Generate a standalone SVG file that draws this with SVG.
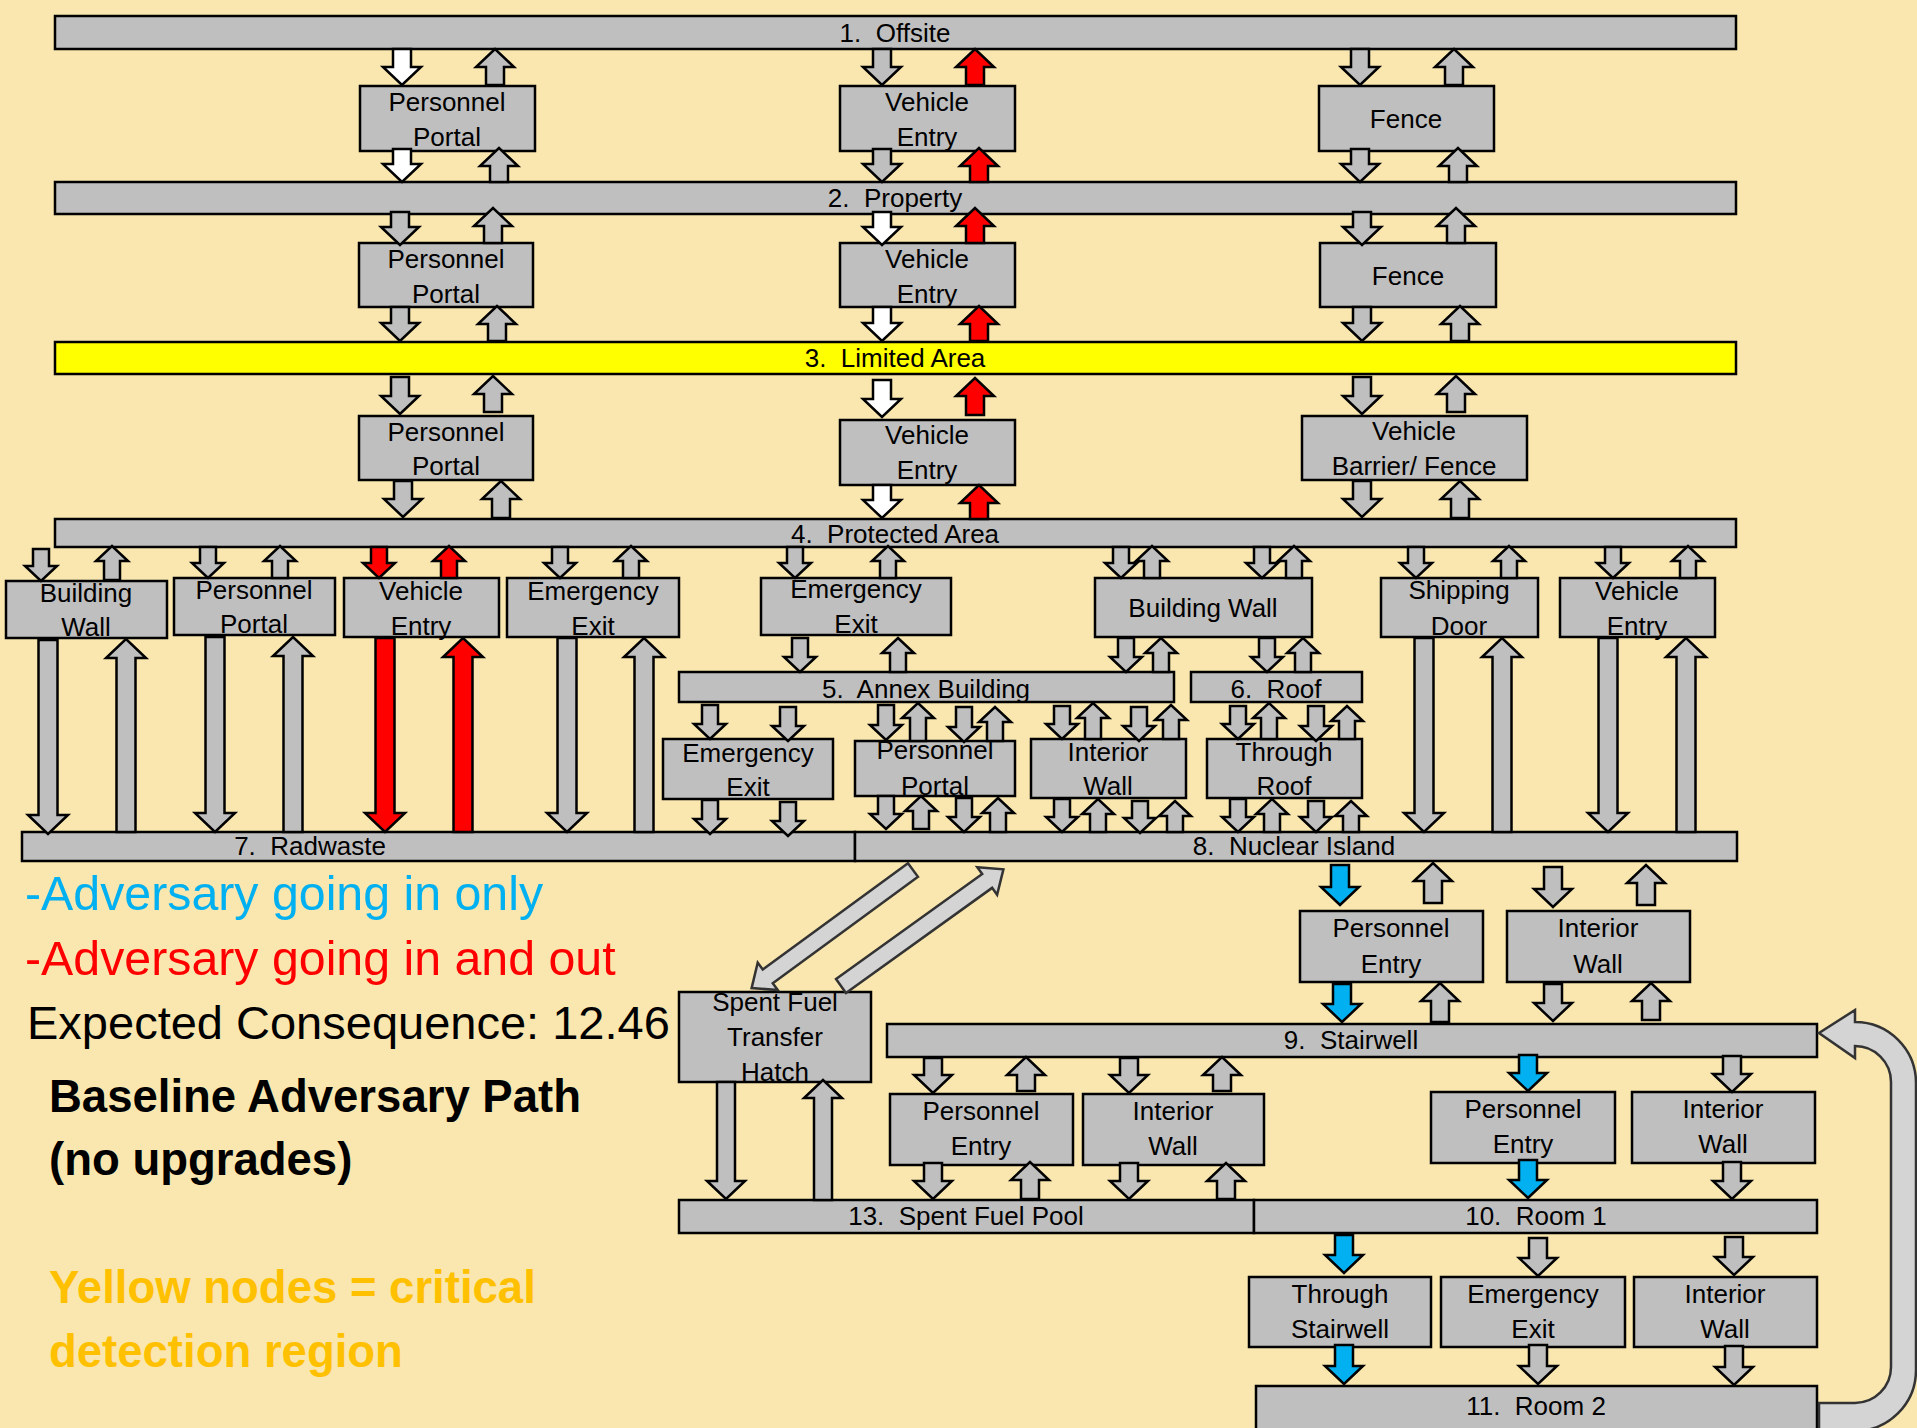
<svg xmlns="http://www.w3.org/2000/svg" width="1917" height="1428" viewBox="0 0 1917 1428">
<style>
.n{fill:#BFBFBF;stroke:#000;stroke-width:2.5}
.yl{fill:#FFFF00;stroke:#000;stroke-width:2.5}
.t{font-family:'Liberation Sans',Arial,sans-serif;font-size:26px;fill:#000;text-anchor:middle;white-space:pre}
.g{fill:#BFBFBF;stroke:#000;stroke-width:2.5}
.w{fill:#FFFFFF;stroke:#000;stroke-width:2.5}
.r{fill:#FF0000;stroke:#000;stroke-width:2.5}
.b{fill:#00B0F0;stroke:#000;stroke-width:2.5}
.cv{fill:#D4D4D4;stroke:#333;stroke-width:2.5}
.lg{font-family:'Liberation Sans',Arial,sans-serif;font-size:47px}
.lgb{font-family:'Liberation Sans',Arial,sans-serif;font-size:48.3px}
.lb{font-family:'Liberation Sans',Arial,sans-serif;font-size:45.5px;font-weight:bold}
</style>
<rect width="1917" height="1428" fill="#FAE7AF"/>

<g id="bar1"><rect class="n" x="55" y="16" width="1681" height="33"/><text class="t" x="895" y="42">1.  Offsite</text></g>
<g id="bar2"><rect class="n" x="55" y="182" width="1681" height="32"/><text class="t" x="895" y="207">2.  Property</text></g>
<g id="bar3"><rect class="yl" x="55" y="342" width="1681" height="32"/><text class="t" x="895" y="367">3.  Limited Area</text></g>
<g id="bar4"><rect class="n" x="55" y="519" width="1681" height="28"/><text class="t" x="895" y="543">4.  Protected Area</text></g>
<g id="bar5"><rect class="n" x="679" y="672" width="495" height="30"/><text class="t" x="926" y="698">5.  Annex Building</text></g>
<g id="bar6"><rect class="n" x="1191" y="672" width="171" height="30"/><text class="t" x="1276" y="698">6.  Roof</text></g>
<g id="bar7"><rect class="n" x="22" y="832" width="833" height="29"/><text class="t" x="310" y="855">7.  Radwaste</text></g>
<g id="bar8"><rect class="n" x="855" y="832" width="882" height="29"/><text class="t" x="1294" y="855">8.  Nuclear Island</text></g>
<g id="bar9"><rect class="n" x="887" y="1024" width="930" height="33"/><text class="t" x="1351" y="1049">9.  Stairwell</text></g>
<g id="bar13"><rect class="n" x="679" y="1200" width="575" height="33"/><text class="t" x="966" y="1225">13.  Spent Fuel Pool</text></g>
<g id="bar10"><rect class="n" x="1254" y="1200" width="563" height="33"/><text class="t" x="1536" y="1225">10.  Room 1</text></g>
<g id="bar11"><rect class="n" x="1256" y="1386" width="561" height="50"/><text class="t" x="1536" y="1415">11.  Room 2</text></g>

<g id="pp1"><rect class="n" x="360" y="86" width="175" height="65"/><text class="t" x="447" y="111">Personnel</text><text class="t" x="447" y="146">Portal</text></g>
<g id="ve1"><rect class="n" x="840" y="86" width="175" height="65"/><text class="t" x="927" y="111">Vehicle</text><text class="t" x="927" y="146">Entry</text></g>
<g id="f1"><rect class="n" x="1319" y="86" width="175" height="65"/><text class="t" x="1406" y="128">Fence</text></g>
<g id="pp2"><rect class="n" x="359" y="243" width="174" height="64"/><text class="t" x="446" y="268">Personnel</text><text class="t" x="446" y="303">Portal</text></g>
<g id="ve2"><rect class="n" x="840" y="243" width="175" height="64"/><text class="t" x="927" y="268">Vehicle</text><text class="t" x="927" y="303">Entry</text></g>
<g id="f2"><rect class="n" x="1320" y="243" width="176" height="64"/><text class="t" x="1408" y="285">Fence</text></g>
<g id="pp3"><rect class="n" x="359" y="416" width="174" height="64"/><text class="t" x="446" y="441">Personnel</text><text class="t" x="446" y="475">Portal</text></g>
<g id="ve3"><rect class="n" x="840" y="420" width="175" height="65"/><text class="t" x="927" y="444">Vehicle</text><text class="t" x="927" y="479">Entry</text></g>
<g id="vbf"><rect class="n" x="1302" y="416" width="225" height="64"/><text class="t" x="1414" y="440">Vehicle</text><text class="t" x="1414" y="475">Barrier/ Fence</text></g>

<g id="bw4"><rect class="n" x="6" y="581" width="161" height="57"/><text class="t" x="86" y="602">Building</text><text class="t" x="86" y="636">Wall</text></g>
<g id="pp4"><rect class="n" x="174" y="578" width="161" height="57"/><text class="t" x="254" y="599">Personnel</text><text class="t" x="254" y="633">Portal</text></g>
<g id="ve4"><rect class="n" x="344" y="578" width="155" height="59"/><text class="t" x="421" y="600">Vehicle</text><text class="t" x="421" y="635">Entry</text></g>
<g id="ee4"><rect class="n" x="507" y="578" width="172" height="59"/><text class="t" x="593" y="600">Emergency</text><text class="t" x="593" y="635">Exit</text></g>
<g id="ee4b"><rect class="n" x="761" y="578" width="190" height="57"/><text class="t" x="856" y="598">Emergency</text><text class="t" x="856" y="633">Exit</text></g>
<g id="bw4b"><rect class="n" x="1095" y="578" width="217" height="59"/><text class="t" x="1203" y="617">Building Wall</text></g>
<g id="sd4"><rect class="n" x="1381" y="578" width="157" height="59"/><text class="t" x="1459" y="599">Shipping</text><text class="t" x="1459" y="635">Door</text></g>
<g id="ve4b"><rect class="n" x="1560" y="578" width="155" height="59"/><text class="t" x="1637" y="600">Vehicle</text><text class="t" x="1637" y="635">Entry</text></g>

<g id="ee5"><rect class="n" x="663" y="739" width="170" height="60"/><text class="t" x="748" y="762">Emergency</text><text class="t" x="748" y="796">Exit</text></g>
<g id="pp5"><rect class="n" x="855" y="741" width="160" height="55"/><text class="t" x="935" y="759">Personnel</text><text class="t" x="935" y="795">Portal</text></g>
<g id="iw5"><rect class="n" x="1031" y="739" width="155" height="59"/><text class="t" x="1108" y="761">Interior</text><text class="t" x="1108" y="795">Wall</text></g>
<g id="tr6"><rect class="n" x="1207" y="739" width="155" height="59"/><text class="t" x="1284" y="761">Through</text><text class="t" x="1284" y="795">Roof</text></g>

<g id="pe8"><rect class="n" x="1300" y="911" width="183" height="71"/><text class="t" x="1391" y="937">Personnel</text><text class="t" x="1391" y="973">Entry</text></g>
<g id="iw8"><rect class="n" x="1507" y="911" width="183" height="71"/><text class="t" x="1598" y="937">Interior</text><text class="t" x="1598" y="973">Wall</text></g>
<g id="sfth"><rect class="n" x="679" y="992" width="192" height="90"/><text class="t" x="775" y="1011">Spent Fuel</text><text class="t" x="775" y="1046">Transfer</text><text class="t" x="775" y="1081">Hatch</text></g>
<g id="pe9"><rect class="n" x="890" y="1094" width="183" height="71"/><text class="t" x="981" y="1120">Personnel</text><text class="t" x="981" y="1155">Entry</text></g>
<g id="iw9"><rect class="n" x="1083" y="1094" width="181" height="71"/><text class="t" x="1173" y="1120">Interior</text><text class="t" x="1173" y="1155">Wall</text></g>
<g id="pe9b"><rect class="n" x="1431" y="1092" width="184" height="71"/><text class="t" x="1523" y="1118">Personnel</text><text class="t" x="1523" y="1153">Entry</text></g>
<g id="iw9b"><rect class="n" x="1632" y="1092" width="183" height="71"/><text class="t" x="1723" y="1118">Interior</text><text class="t" x="1723" y="1153">Wall</text></g>
<g id="ts10"><rect class="n" x="1249" y="1277" width="182" height="70"/><text class="t" x="1340" y="1303">Through</text><text class="t" x="1340" y="1338">Stairwell</text></g>
<g id="ee10"><rect class="n" x="1441" y="1277" width="184" height="70"/><text class="t" x="1533" y="1303">Emergency</text><text class="t" x="1533" y="1338">Exit</text></g>
<g id="iw10"><rect class="n" x="1634" y="1277" width="183" height="70"/><text class="t" x="1725" y="1303">Interior</text><text class="t" x="1725" y="1338">Wall</text></g>

<g id="connectors">
<path class="w" d="M393,49 h18 v18 h10 l-19,18 l-19,-18 h10 z"/>
<path class="g" d="M486,85 h18 v-18 h10 l-19,-18 l-19,18 h10 z"/>
<path class="w" d="M393,149 h18 v15 h10 l-19,18 l-19,-18 h10 z"/>
<path class="g" d="M490,182 h18 v-16 h10 l-19,-18 l-19,18 h10 z"/>
<path class="g" d="M391,212 h18 v15 h10 l-19,18 l-19,-18 h10 z"/>
<path class="g" d="M484,243 h18 v-17 h10 l-19,-18 l-19,18 h10 z"/>
<path class="g" d="M391,307 h18 v16 h10 l-19,18 l-19,-18 h10 z"/>
<path class="g" d="M488,341 h18 v-17 h10 l-19,-18 l-19,18 h10 z"/>
<path class="g" d="M391,377 h18 v19 h10 l-19,18 l-19,-18 h10 z"/>
<path class="g" d="M484,412 h18 v-18 h10 l-19,-18 l-19,18 h10 z"/>
<path class="g" d="M394,481 h18 v18 h10 l-19,18 l-19,-18 h10 z"/>
<path class="g" d="M492,518 h18 v-19 h10 l-19,-18 l-19,18 h10 z"/>

<path class="g" d="M873,49 h18 v18 h10 l-19,18 l-19,-18 h10 z"/>
<path class="r" d="M966,85 h18 v-18 h10 l-19,-18 l-19,18 h10 z"/>
<path class="g" d="M873,149 h18 v15 h10 l-19,18 l-19,-18 h10 z"/>
<path class="r" d="M970,182 h18 v-16 h10 l-19,-18 l-19,18 h10 z"/>
<path class="w" d="M873,212 h18 v15 h10 l-19,18 l-19,-18 h10 z"/>
<path class="r" d="M966,243 h18 v-17 h10 l-19,-18 l-19,18 h10 z"/>
<path class="w" d="M873,307 h18 v16 h10 l-19,18 l-19,-18 h10 z"/>
<path class="r" d="M970,341 h18 v-17 h10 l-19,-18 l-19,18 h10 z"/>
<path class="w" d="M873,380 h18 v19 h10 l-19,18 l-19,-18 h10 z"/>
<path class="r" d="M966,415 h18 v-19 h10 l-19,-18 l-19,18 h10 z"/>
<path class="w" d="M873,485 h18 v15 h10 l-19,18 l-19,-18 h10 z"/>
<path class="r" d="M970,519 h18 v-16 h10 l-19,-18 l-19,18 h10 z"/>

<path class="g" d="M1351,49 h18 v18 h10 l-19,18 l-19,-18 h10 z"/>
<path class="g" d="M1445,85 h18 v-18 h10 l-19,-18 l-19,18 h10 z"/>
<path class="g" d="M1351,149 h18 v15 h10 l-19,18 l-19,-18 h10 z"/>
<path class="g" d="M1449,182 h18 v-16 h10 l-19,-18 l-19,18 h10 z"/>
<path class="g" d="M1353,212 h18 v15 h10 l-19,18 l-19,-18 h10 z"/>
<path class="g" d="M1447,243 h18 v-17 h10 l-19,-18 l-19,18 h10 z"/>
<path class="g" d="M1353,307 h18 v16 h10 l-19,18 l-19,-18 h10 z"/>
<path class="g" d="M1451,341 h18 v-17 h10 l-19,-18 l-19,18 h10 z"/>
<path class="g" d="M1353,377 h18 v19 h10 l-19,18 l-19,-18 h10 z"/>
<path class="g" d="M1447,412 h18 v-18 h10 l-19,-18 l-19,18 h10 z"/>
<path class="g" d="M1353,481 h18 v18 h10 l-19,18 l-19,-18 h10 z"/>
<path class="g" d="M1451,518 h18 v-19 h10 l-19,-18 l-19,18 h10 z"/>

<path class="g" d="M33,549 h16 v17 h8 l-16,15 l-16,-15 h8 z"/>
<path class="g" d="M104,580 h16 v-19 h8 l-16,-15 l-16,15 h8 z"/>
<path class="g" d="M200,547 h16 v16 h8 l-16,15 l-16,-15 h8 z"/>
<path class="g" d="M272,578 h16 v-17 h8 l-16,-15 l-16,15 h8 z"/>
<path class="r" d="M371,547 h16 v16 h8 l-16,15 l-16,-15 h8 z"/>
<path class="r" d="M441,578 h16 v-17 h8 l-16,-15 l-16,15 h8 z"/>
<path class="g" d="M552,547 h16 v16 h8 l-16,15 l-16,-15 h8 z"/>
<path class="g" d="M623,578 h16 v-17 h8 l-16,-15 l-16,15 h8 z"/>
<path class="g" d="M787,547 h16 v16 h8 l-16,15 l-16,-15 h8 z"/>
<path class="g" d="M880,578 h16 v-17 h8 l-16,-15 l-16,15 h8 z"/>
<path class="g" d="M1113,547 h16 v16 h8 l-16,15 l-16,-15 h8 z"/>
<path class="g" d="M1144,578 h16 v-17 h8 l-16,-15 l-16,15 h8 z"/>
<path class="g" d="M1254,547 h16 v16 h8 l-16,15 l-16,-15 h8 z"/>
<path class="g" d="M1286,578 h16 v-17 h8 l-16,-15 l-16,15 h8 z"/>
<path class="g" d="M1408,547 h16 v16 h8 l-16,15 l-16,-15 h8 z"/>
<path class="g" d="M1501,578 h16 v-17 h8 l-16,-15 l-16,15 h8 z"/>
<path class="g" d="M1605,547 h16 v16 h8 l-16,15 l-16,-15 h8 z"/>
<path class="g" d="M1680,578 h16 v-17 h8 l-16,-15 l-16,15 h8 z"/>

<path class="g" d="M38.5,640 h19 v175 h10.5 l-20,19 l-20,-19 h10.5 z"/>
<path class="g" d="M116.5,832 h19 v-174 h10.5 l-20,-19 l-20,19 h10.5 z"/>
<path class="g" d="M205.5,637 h19 v176 h10.5 l-20,19 l-20,-19 h10.5 z"/>
<path class="g" d="M283.5,832 h19 v-176 h10.5 l-20,-19 l-20,19 h10.5 z"/>
<path class="r" d="M375.5,638 h19 v175 h10.5 l-20,19 l-20,-19 h10.5 z"/>
<path class="r" d="M453.5,832 h19 v-175 h10.5 l-20,-19 l-20,19 h10.5 z"/>
<path class="g" d="M557.5,638 h19 v175 h10.5 l-20,19 l-20,-19 h10.5 z"/>
<path class="g" d="M634.5,832 h19 v-175 h10.5 l-20,-19 l-20,19 h10.5 z"/>
<path class="g" d="M1414.5,638 h19 v175 h10.5 l-20,19 l-20,-19 h10.5 z"/>
<path class="g" d="M1492.5,832 h19 v-175 h10.5 l-20,-19 l-20,19 h10.5 z"/>
<path class="g" d="M1598.5,638 h19 v175 h10.5 l-20,19 l-20,-19 h10.5 z"/>
<path class="g" d="M1676.5,832 h19 v-175 h10.5 l-20,-19 l-20,19 h10.5 z"/>

<path class="g" d="M792,638 h16 v19 h8 l-16,15 l-16,-15 h8 z"/>
<path class="g" d="M890,672 h16 v-19 h8 l-16,-15 l-16,15 h8 z"/>
<path class="g" d="M1118,638 h16 v19 h8 l-16,15 l-16,-15 h8 z"/>
<path class="g" d="M1153,672 h16 v-19 h8 l-16,-15 l-16,15 h8 z"/>
<path class="g" d="M1259,638 h16 v19 h8 l-16,15 l-16,-15 h8 z"/>
<path class="g" d="M1295,672 h16 v-19 h8 l-16,-15 l-16,15 h8 z"/>

<path class="g" d="M702,705 h16 v19 h8 l-16,15 l-16,-15 h8 z"/>
<path class="g" d="M780,707 h16 v19 h8 l-16,15 l-16,-15 h8 z"/>
<path class="g" d="M878,705 h16 v20 h8 l-16,15 l-16,-15 h8 z"/>
<path class="g" d="M910,741 h16 v-23 h8 l-16,-15 l-16,15 h8 z"/>
<path class="g" d="M956,707 h16 v20 h8 l-16,15 l-16,-15 h8 z"/>
<path class="g" d="M987,741 h16 v-19 h8 l-16,-15 l-16,15 h8 z"/>
<path class="g" d="M1054,706 h16 v18 h8 l-16,15 l-16,-15 h8 z"/>
<path class="g" d="M1085,739 h16 v-21 h8 l-16,-15 l-16,15 h8 z"/>
<path class="g" d="M1131,707 h16 v19 h8 l-16,15 l-16,-15 h8 z"/>
<path class="g" d="M1163,739 h16 v-19 h8 l-16,-15 l-16,15 h8 z"/>
<path class="g" d="M1230,706 h16 v18 h8 l-16,15 l-16,-15 h8 z"/>
<path class="g" d="M1261,739 h16 v-21 h8 l-16,-15 l-16,15 h8 z"/>
<path class="g" d="M1308,706 h16 v20 h8 l-16,15 l-16,-15 h8 z"/>
<path class="g" d="M1339,739 h16 v-18 h8 l-16,-15 l-16,15 h8 z"/>

<path class="g" d="M702,800 h16 v19 h8 l-16,15 l-16,-15 h8 z"/>
<path class="g" d="M780,802 h16 v19 h8 l-16,15 l-16,-15 h8 z"/>
<path class="g" d="M878,796 h16 v18 h8 l-16,15 l-16,-15 h8 z"/>
<path class="g" d="M913,829 h16 v-18 h8 l-16,-15 l-16,15 h8 z"/>
<path class="g" d="M956,798 h16 v19 h8 l-16,15 l-16,-15 h8 z"/>
<path class="g" d="M990,832 h16 v-19 h8 l-16,-15 l-16,15 h8 z"/>
<path class="g" d="M1054,799 h16 v18 h8 l-16,15 l-16,-15 h8 z"/>
<path class="g" d="M1090,832 h16 v-18 h8 l-16,-15 l-16,15 h8 z"/>
<path class="g" d="M1132,801 h16 v17 h8 l-16,15 l-16,-15 h8 z"/>
<path class="g" d="M1167,832 h16 v-16 h8 l-16,-15 l-16,15 h8 z"/>
<path class="g" d="M1230,799 h16 v18 h8 l-16,15 l-16,-15 h8 z"/>
<path class="g" d="M1264,832 h16 v-18 h8 l-16,-15 l-16,15 h8 z"/>
<path class="g" d="M1308,801 h16 v16 h8 l-16,15 l-16,-15 h8 z"/>
<path class="g" d="M1343,832 h16 v-16 h8 l-16,-15 l-16,15 h8 z"/>

<path class="b" d="M1331,865 h18 v22 h10 l-19,18 l-19,-18 h10 z"/>
<path class="g" d="M1424,903 h18 v-22 h10 l-19,-18 l-19,18 h10 z"/>
<path class="g" d="M1544,867 h18 v22 h10 l-19,18 l-19,-18 h10 z"/>
<path class="g" d="M1637,905 h18 v-22 h10 l-19,-18 l-19,18 h10 z"/>
<path class="b" d="M1333,984 h18 v20 h10 l-19,18 l-19,-18 h10 z"/>
<path class="g" d="M1431,1022 h18 v-21 h10 l-19,-18 l-19,18 h10 z"/>
<path class="g" d="M1544,984 h18 v19 h10 l-19,18 l-19,-18 h10 z"/>
<path class="g" d="M1642,1020 h18 v-19 h10 l-19,-18 l-19,18 h10 z"/>

<path class="g" d="M924,1058 h18 v17 h10 l-19,18 l-19,-18 h10 z"/>
<path class="g" d="M1017,1091 h18 v-16 h10 l-19,-18 l-19,18 h10 z"/>
<path class="g" d="M1120,1058 h18 v17 h10 l-19,18 l-19,-18 h10 z"/>
<path class="g" d="M1213,1091 h18 v-16 h10 l-19,-18 l-19,18 h10 z"/>
<path class="b" d="M1519,1055 h18 v18 h10 l-19,18 l-19,-18 h10 z"/>
<path class="g" d="M1723,1056 h18 v18 h10 l-19,18 l-19,-18 h10 z"/>

<path class="g" d="M924,1163 h18 v18 h10 l-19,18 l-19,-18 h10 z"/>
<path class="g" d="M1021,1199 h18 v-19 h10 l-19,-18 l-19,18 h10 z"/>
<path class="g" d="M1120,1163 h18 v18 h10 l-19,18 l-19,-18 h10 z"/>
<path class="g" d="M1217,1199 h18 v-18 h10 l-19,-18 l-19,18 h10 z"/>
<path class="b" d="M1519,1160 h18 v20 h10 l-19,18 l-19,-18 h10 z"/>
<path class="g" d="M1723,1162 h18 v19 h10 l-19,18 l-19,-18 h10 z"/>

<path class="g" d="M717,1082 h18 v99 h10 l-19,18 l-19,-18 h10 z"/>
<path class="g" d="M814,1200 h18 v-102 h10 l-19,-18 l-19,18 h10 z"/>

<path class="b" d="M1335,1235 h18 v20 h10 l-19,18 l-19,-18 h10 z"/>
<path class="g" d="M1529,1238 h18 v20 h10 l-19,18 l-19,-18 h10 z"/>
<path class="g" d="M1725,1237 h18 v20 h10 l-19,18 l-19,-18 h10 z"/>
<path class="b" d="M1335,1345 h18 v21 h10 l-19,18 l-19,-18 h10 z"/>
<path class="g" d="M1529,1345 h18 v21 h10 l-19,18 l-19,-18 h10 z"/>
<path class="g" d="M1725,1346 h18 v21 h10 l-19,18 l-19,-18 h10 z"/>

<path class="cv" d="M0,-8.5 H180 V-17 L200,0 L180,17 V8.5 H0 Z" transform="translate(913,870) rotate(143.8)"/>
<path class="cv" d="M0,-8.5 H180 V-17 L200,0 L180,17 V8.5 H0 Z" transform="translate(841,986) rotate(-35.7)"/>

<path class="cv" d="M1819,1403 H1855 A36,36 0 0 0 1891,1367 V1082 A36,36 0 0 0 1855,1046 V1058 L1819,1033 L1855,1010 V1022 A61,61 0 0 1 1916,1083 V1370 A61,61 0 0 1 1855,1431 H1819 Z"/>
</g>

<g id="legend">
<text class="lgb" x="25" y="910" fill="#00B0F0">-Adversary going in only</text>
<text class="lgb" x="25" y="975" fill="#FF0000">-Adversary going in and out</text>
<text class="lg" x="27" y="1039" fill="#000000">Expected Consequence: 12.46</text>
<text class="lb" x="49" y="1112" fill="#000000">Baseline Adversary Path</text>
<text class="lb" x="49" y="1175" fill="#000000">(no upgrades)</text>
<text class="lb" x="49" y="1303" fill="#FFC000">Yellow nodes = critical</text>
<text class="lb" x="49" y="1367" fill="#FFC000">detection region</text>
</g>
</svg>
